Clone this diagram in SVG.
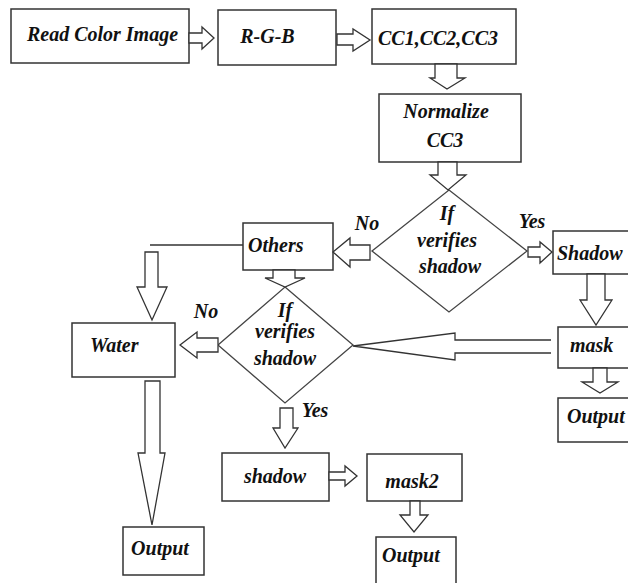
<svg xmlns="http://www.w3.org/2000/svg" width="628" height="583" viewBox="0 0 628 583">
<style>
.box{fill:#fff;stroke:#333;stroke-width:1.5}
.dia{fill:#fff;stroke:#444;stroke-width:1.3}
.arr{fill:#fff;stroke:#333;stroke-width:1.3;stroke-linejoin:miter}
.ln{fill:none;stroke:#333;stroke-width:1.3}
text{font-family:"Liberation Serif","Times New Roman",serif;font-weight:bold;font-style:italic;fill:#111;font-size:20px}
.m{text-anchor:middle}
</style>
<rect width="628" height="583" fill="#fff"/>
<g id="n_read"><rect class="box" x="11" y="9" width="178" height="54"/><text class="m" x="102.5" y="41">Read Color Image</text></g>
<g id="n_rgb"><rect class="box" x="218" y="10" width="118" height="55"/><text class="m" x="267.5" y="43">R-G-B</text></g>
<g id="n_cc"><rect class="box" x="372" y="9" width="144" height="55"/><text class="m" x="438" y="45">CC1,CC2,CC3</text></g>
<g id="n_norm"><rect class="box" x="379" y="94" width="142" height="68"/><text class="m" x="446" y="118" font-size="21">Normalize</text><text class="m" x="445" y="147">CC3</text></g>
<g id="n_dec1"><polygon class="dia" points="449,190 527,251 449,312 372,251"/><text class="m" x="447" y="220" font-size="21">If</text><text class="m" x="447" y="247" font-size="21">verifies</text><text class="m" x="450" y="273" font-size="21">shadow</text></g>
<g id="n_shadow"><rect class="box" x="553" y="231" width="90" height="43"/><text x="557" y="260" font-size="21">Shadow</text></g>
<g id="n_mask"><rect class="box" x="558" y="327" width="80" height="41"/><text x="570" y="352" font-size="21">mask</text></g>
<g id="n_out1"><rect class="box" x="558" y="398" width="80" height="44"/><text x="567" y="423">Output</text></g>
<g id="n_others"><rect class="box" x="243" y="223" width="90" height="47"/><text x="248" y="252">Others</text></g>
<g id="n_dec2"><polygon class="dia" points="285,287 353,345 285,403 218,345"/><text class="m" x="285" y="317" font-size="21">If</text><text class="m" x="285" y="338" font-size="21">verifies</text><text class="m" x="285" y="365" font-size="21">shadow</text></g>
<g id="n_water"><rect class="box" x="72" y="323" width="103" height="54"/><text x="90" y="352" font-size="23">Water</text></g>
<g id="n_out2"><rect class="box" x="123" y="527" width="81" height="48"/><text class="m" x="160" y="555">Output</text></g>
<g id="n_shadow2"><rect class="box" x="222" y="453" width="107" height="48"/><text class="m" x="275" y="483" font-size="24">shadow</text></g>
<g id="n_mask2"><rect class="box" x="367" y="454" width="95" height="47"/><text class="m" x="412" y="488" font-size="22">mask2</text></g>
<g id="n_out3"><rect class="box" x="376" y="537" width="80" height="60"/><text x="382" y="562">Output</text></g>
<g id="connectors">
<polygon class="arr" points="189,33 202,33 202,27 214,38 202,49 202,43 189,43"/>
<polygon class="arr" points="337,34 353,34 353,29 370,40 353,51 353,45 337,45"/>
<polygon class="arr" points="435,64 457,64 457,78 465,78 447,89 430,78 435,78"/>
<polygon class="arr" points="438,162 457,162 457,175 466,175 448,190 430,175 438,175"/>
<polygon class="arr" points="528,247 540,247 540,242 552,252 540,263 540,257 528,257"/>
<polygon class="arr" points="587,274 605,274 605,300 612,300 596,325 580,300 587,300"/>
<polygon class="arr" points="593,368 607,368 607,382 618,382 600,393 582,382 593,382"/>
<polyline class="arr" points="551,340 455,340 455,333 353,346 455,360 455,353 551,353"/>
<line class="ln" x1="150" y1="245" x2="243" y2="245"/>
<polygon class="arr" points="370,245 350,245 350,238 333,252 350,267 350,260 370,260"/>
<polygon class="arr" points="145,252 158,252 158,287 167,287 152,320 137,287 145,287"/>
<polygon class="arr" points="273,270 295,270 295,278 305,278 285,287 265,278 273,278"/>
<polygon class="arr" points="218,338 197,338 197,332 180,345 197,358 197,352 218,352"/>
<polygon class="arr" points="145,381 160,381 160,453 165,453 152,525 138,453 145,453"/>
<polygon class="arr" points="280,408 293,408 293,428 298,428 285,448 273,428 280,428"/>
<polygon class="arr" points="329,472 345,472 345,466 357,476 345,486 345,480 329,480"/>
<polygon class="arr" points="410,501 420,501 420,515 428,515 414,532 400,515 410,515"/>
<text class="m" x="367" y="230">No</text>
<text class="m" x="532" y="228">Yes</text>
<text class="m" x="206" y="318">No</text>
<text class="m" x="315" y="417">Yes</text>
</g>
</svg>
